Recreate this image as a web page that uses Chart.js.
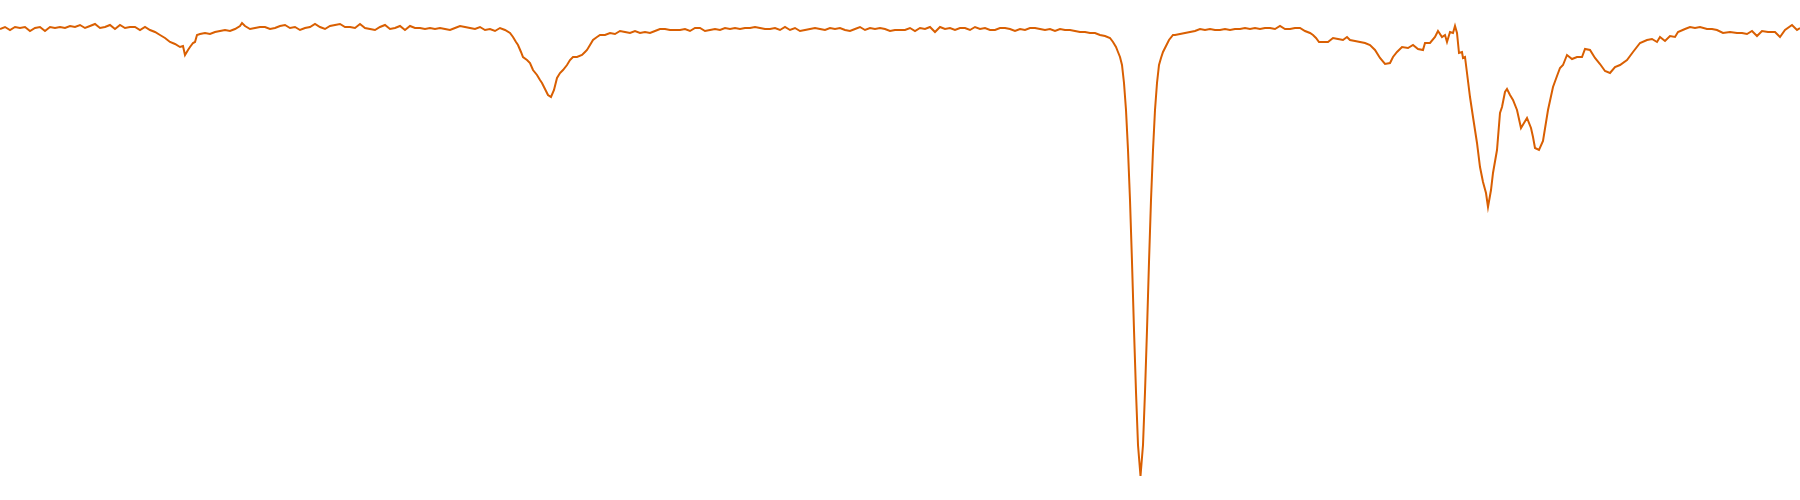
<!DOCTYPE html>
<html>
<head>
<meta charset="utf-8">
<script src="https://cdn.jsdelivr.net/npm/chart.js@4.4.1/dist/chart.umd.min.js"></script>
<style>
  html, body { margin: 0; padding: 0; background: #ffffff; }
  #wrap { width: 1800px; height: 500px; }
</style>
</head>
<body>
<div id="wrap"><canvas id="spectrum"></canvas></div>
<script>
// wavelength (nm) and normalised flux
const wavelength = [
  400,401,402,403,404,405,406,407,408,409,410,411,412,413,414,415,416,417,418,419,420,421,422,423,424,425,426,427,428,429,430,
  431,432,433,434,435,436,436.6,437,437.6,438,438.6,439,439.4,440,441,442,443,444,445,446,447,448,448.4,449,450,451,452,
  453,454,455,456,457,458,459,460,
  461,462,463,464,465,466,467,468,469,470,471,472,473,474,475,476,477,478,479,480,481,482,483,484,485,486,487,488,489,490,491,492,493,494,495,496,497,498,499,500,501,
  502,502.6,503.2,503.6,504.2,504.6,505.4,506,506.6,507.4,508,508.4,509,509.6,510.2,510.8,511.4,512,512.6,513.4,514,514.6,515.4,516.4,517,517.4,518,518.6,519.4,520,
  521,522,523,524,525,526,527,528,529,530,531,532,533,534,535,536,537,538,539,540,541,542,543,544,545,546,547,548,549,550,
  551,552,553,554,555,556,557,558,559,560,561,562,563,564,565,566,567,568,569,570,571,572,573,574,575,576,577,578,579,580,
  581,582,583,584,585,586,587,588,589,590,591,592,593,594,595,596,597,598,599,600,601,602,603,604,605,606,607,608,609,610,
  611,612,613,614,615,616,617,618,619,620,621,622,
  622.6,623.2,623.6,624,624.4,624.8,625.2,625.6,626,626.4,626.8,627.2,627.6,628.1,628.6,629,629.4,629.8,630.2,630.6,631,631.4,631.8,632.2,632.6,633.2,633.8,634.6,
  635,636,637,638,639,640,641,642,643,644,645,646,647,648,649,650,651,652,653,654,655,656,657,658,659,660,
  661,662,662.6,663.2,663.8,664.8,665.6,666.6,667.6,668.6,669.4,670,671,672,673,674,675,676,677,678,
  678.6,679.4,680.4,681.6,682.6,683.6,684.6,685,686,687,687.6,688.4,689,689.4,690,690.6,691,691.4,691.8,692.4,
  692.6,693,693.4,694,694.6,695.4,696,696.6,697.2,697.6,698.2,698.6,699.4,700,700.4,701,701.4,702,702.6,703.4,
  704.2,704.8,705.4,706.2,706.6,707,707.8,708.6,709.6,710.6,711.4,712,712.6,713.4,714.4,715.4,716.4,717,718,719,
  720,721,722,723,724,725.4,726.6,728,729.4,730.4,731.4,732,733,734,735,735.6,737,738,739,740,
  741.4,742.4,743.4,744.6,746,747.4,748.4,749.4,750.4,751.4,752.4,753.6,755,756,757,758.4,759.4,760
];

const flux = [
  0.998,1.002,0.996,1.002,1.000,1.002,0.994,1.000,1.002,0.994,1.002,1.000,1.002,1.000,1.004,1.002,1.006,1.000,1.004,1.008,1.000,1.002,1.006,0.998,1.006,1.000,1.002,1.002,0.996,1.002,0.996,
  0.992,0.986,0.980,0.972,0.968,0.962,0.964,0.946,0.956,0.962,0.970,0.972,0.986,0.988,0.990,0.988,0.992,0.994,0.996,0.994,0.998,1.004,1.010,1.004,0.998,1.000,1.002,
  1.002,0.998,1.000,1.004,1.006,1.000,1.002,0.996,
  1.000,1.002,1.008,1.002,0.998,1.004,1.006,1.008,1.002,1.002,1.000,1.008,1.000,0.998,0.996,1.002,1.006,0.998,1.000,1.004,0.996,1.004,1.000,1.000,0.998,1.000,0.998,1.000,0.998,0.996,1.000,1.004,1.002,1.000,0.998,1.002,0.996,0.998,0.994,1.000,0.996,
  0.990,0.982,0.972,0.966,0.952,0.942,0.936,0.930,0.916,0.906,0.896,0.890,0.878,0.866,0.862,0.876,0.900,0.910,0.916,0.926,0.936,0.942,0.942,0.946,0.952,0.956,0.966,0.976,0.982,0.986,
  0.986,0.990,0.988,0.994,0.992,0.990,0.994,0.990,0.992,0.990,0.994,0.998,0.998,0.996,0.996,0.996,0.998,0.994,1.000,1.000,0.994,0.996,0.998,0.996,1.000,0.998,1.000,0.998,1.000,1.000,
  1.002,1.000,0.998,0.998,1.000,0.996,1.002,0.996,1.000,0.994,0.996,0.998,1.000,0.998,0.996,1.000,0.998,1.000,0.996,0.994,0.998,1.002,0.996,1.000,0.998,1.000,0.998,0.994,0.996,0.996,
  0.996,1.000,0.994,1.000,0.998,1.002,0.992,1.002,0.998,1.000,0.996,1.000,1.000,0.996,1.002,0.998,1.000,0.996,0.996,1.000,1.000,0.998,0.994,0.998,0.996,1.000,1.000,0.998,0.996,0.998,
  0.994,0.998,0.996,0.996,0.994,0.992,0.992,0.990,0.990,0.986,0.984,0.980,
  0.972,0.962,0.952,0.942,0.926,0.890,0.836,0.756,0.656,0.532,0.396,0.272,0.166,0.104,0.166,0.272,0.396,0.532,0.656,0.756,0.836,0.890,0.926,0.940,0.952,0.964,0.976,0.986,
  0.986,0.988,0.990,0.992,0.994,0.998,0.996,0.998,0.996,0.996,0.998,0.996,0.998,0.998,1.000,0.998,1.000,0.998,1.000,1.000,0.998,1.004,0.998,0.998,1.000,1.000,
  0.994,0.990,0.986,0.980,0.972,0.972,0.972,0.980,0.978,0.976,0.982,0.976,0.974,0.972,0.970,0.966,0.956,0.940,0.928,0.930,
  0.942,0.952,0.962,0.960,0.966,0.958,0.956,0.970,0.970,0.982,0.994,0.982,0.986,0.972,0.992,0.990,1.004,0.990,0.950,0.952,
  0.940,0.942,0.910,0.862,0.822,0.770,0.722,0.692,0.670,0.642,0.676,0.710,0.756,0.830,0.842,0.872,0.878,0.866,0.856,0.836,
  0.800,0.810,0.820,0.800,0.782,0.760,0.756,0.774,0.836,0.882,0.904,0.920,0.926,0.946,0.938,0.942,0.942,0.958,0.956,0.940,
  0.928,0.914,0.910,0.922,0.926,0.936,0.952,0.970,0.976,0.978,0.972,0.982,0.974,0.984,0.982,0.992,0.998,1.002,1.000,1.002,
  0.998,0.998,0.996,0.990,0.992,0.990,0.990,0.988,0.994,0.984,0.994,0.992,0.992,0.982,0.996,1.006,0.996,1.000
];

const xRange = [400, 760];
const yRange = [0.056, 1.056];

const points = wavelength.map((w, i) => ({ x: w, y: flux[i] }));

const ctx = document.getElementById("spectrum").getContext("2d");

new Chart(ctx, {
  type: "line",
  data: {
    datasets: [
      {
        label: "flux",
        data: points,
        borderColor: "#d95f02",
        borderWidth: 2,
        pointRadius: 0,
        tension: 0,
        fill: false,
      },
    ],
  },
  options: {
    responsive: true,
    maintainAspectRatio: false,
    animation: false,
    layout: { padding: 0 },
    plugins: {
      legend: { display: false },
      tooltip: { enabled: false },
    },
    scales: {
      x: { type: "linear", min: xRange[0], max: xRange[1], display: false },
      y: { min: yRange[0], max: yRange[1], display: false },
    },
  },
});
</script>
</body>
</html>
